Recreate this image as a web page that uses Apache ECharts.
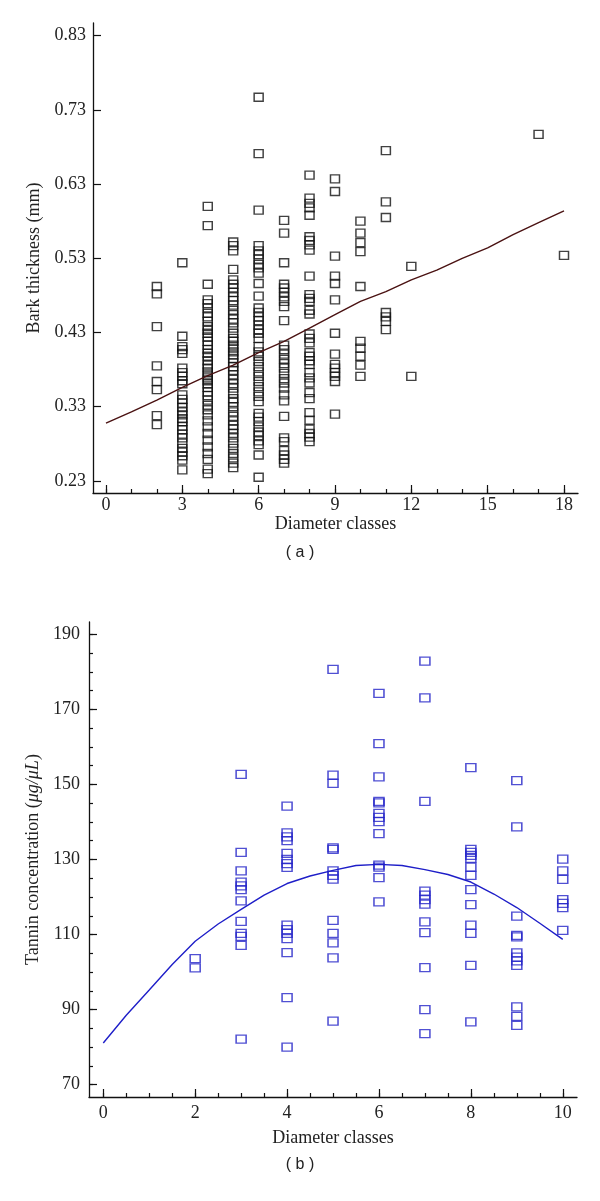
<!DOCTYPE html>
<html><head><meta charset="utf-8">
<script src="https://cdn.jsdelivr.net/npm/echarts@6/dist/echarts.min.js"></script>
<style>html,body{margin:0;padding:0;background:#fff}#c{width:600px;height:1201px}</style>
</head><body><div id="c"></div>
<script>
// ---------- Chart (a): bark thickness ----------
const barkYTicks = [0.23, 0.33, 0.43, 0.53, 0.63, 0.73, 0.83];
const barkXMajor = [0, 3, 6, 9, 12, 15, 18];
const barkXMinor = [0, 1, 2, 3, 4, 5, 6, 7, 8, 9, 10, 11, 12, 13, 14, 15, 16, 17, 18];

const barkClasses = [2, 3, 4, 5, 6, 7, 8, 9, 10, 11, 12, 17, 18];
const bark_c2 = [0.492, 0.482, 0.438, 0.385, 0.364, 0.353, 0.318, 0.306];
const bark_c3 = [0.524, 0.425, 0.411, 0.407, 0.402, 0.382, 0.376, 0.371, 0.365, 0.361, 0.346, 0.340, 0.335, 0.329, 0.323, 0.319, 0.314, 0.310, 0.304, 0.299, 0.293, 0.288, 0.281, 0.274, 0.269, 0.264, 0.258, 0.245];
const bark_c4 = [0.600, 0.574, 0.495, 0.474, 0.469, 0.463, 0.456, 0.451, 0.445, 0.438, 0.433, 0.429, 0.424, 0.418, 0.413, 0.407, 0.402, 0.398, 0.392, 0.386, 0.382, 0.377, 0.373, 0.369, 0.365, 0.361, 0.356, 0.350, 0.345, 0.339, 0.332, 0.326, 0.319, 0.311, 0.303, 0.294, 0.285, 0.276, 0.267, 0.259, 0.246, 0.240];
const bark_c5 = [0.552, 0.547, 0.540, 0.515, 0.501, 0.495, 0.490, 0.484, 0.478, 0.473, 0.467, 0.460, 0.454, 0.448, 0.443, 0.436, 0.429, 0.422, 0.418, 0.413, 0.409, 0.404, 0.400, 0.395, 0.389, 0.384, 0.379, 0.373, 0.367, 0.361, 0.355, 0.348, 0.341, 0.336, 0.330, 0.323, 0.317, 0.311, 0.305, 0.300, 0.294, 0.288, 0.281, 0.274, 0.267, 0.261, 0.254, 0.248];
const bark_c6 = [0.747, 0.671, 0.595, 0.547, 0.540, 0.535, 0.529, 0.522, 0.517, 0.510, 0.496, 0.479, 0.463, 0.457, 0.451, 0.446, 0.440, 0.434, 0.429, 0.422, 0.411, 0.404, 0.398, 0.391, 0.384, 0.377, 0.371, 0.364, 0.357, 0.350, 0.344, 0.337, 0.321, 0.316, 0.310, 0.303, 0.296, 0.291, 0.284, 0.279, 0.265, 0.235];
const bark_c7 = [0.581, 0.564, 0.524, 0.495, 0.490, 0.484, 0.478, 0.472, 0.465, 0.446, 0.413, 0.407, 0.401, 0.394, 0.388, 0.382, 0.375, 0.368, 0.362, 0.355, 0.346, 0.338, 0.317, 0.288, 0.283, 0.271, 0.265, 0.259, 0.254];
const bark_c8 = [0.642, 0.611, 0.604, 0.598, 0.588, 0.559, 0.554, 0.548, 0.541, 0.506, 0.481, 0.476, 0.472, 0.460, 0.455, 0.428, 0.422, 0.416, 0.403, 0.398, 0.392, 0.387, 0.376, 0.369, 0.362, 0.349, 0.341, 0.322, 0.312, 0.300, 0.294, 0.289, 0.283];
const bark_c9 = [0.637, 0.620, 0.533, 0.506, 0.496, 0.474, 0.429, 0.401, 0.387, 0.382, 0.376, 0.371, 0.364, 0.320];
const bark_c10 = [0.580, 0.564, 0.551, 0.539, 0.492, 0.418, 0.409, 0.398, 0.386, 0.371];
const bark_c11 = [0.675, 0.606, 0.585, 0.457, 0.451, 0.445, 0.434];
const bark_c12 = [0.519, 0.371];
const bark_c17 = [0.697];
const bark_c18 = [0.534];
const barkValues = [bark_c2, bark_c3, bark_c4, bark_c5, bark_c6, bark_c7, bark_c8, bark_c9, bark_c10, bark_c11, bark_c12, bark_c17, bark_c18];

const barkFitX = [0, 1, 2, 3, 4, 5, 6, 7, 8, 9, 10, 11, 12, 13, 14, 15, 16, 17, 18];
const barkFitY = [0.308, 0.323, 0.339, 0.356, 0.372, 0.386, 0.403, 0.418, 0.436, 0.454, 0.472, 0.485, 0.501, 0.514, 0.530, 0.544, 0.562, 0.578, 0.594];

// ---------- Chart (b): tannin concentration ----------
const tanYMajor = [70, 90, 110, 130, 150, 170, 190];
const tanYMinor = [70, 75, 80, 85, 90, 95, 100, 105, 110, 115, 120, 125, 130, 135, 140, 145, 150, 155, 160, 165, 170, 175, 180, 185, 190];
const tanXMajor = [0, 2, 4, 6, 8, 10];
const tanXMinor = [0, 0.5, 1, 1.5, 2, 2.5, 3, 3.5, 4, 4.5, 5, 5.5, 6, 6.5, 7, 7.5, 8, 8.5, 9, 9.5, 10];

const tanClasses = [2, 3, 4, 5, 6, 7, 8, 9, 10];
const tan_c2 = [103.6, 101.1];
const tan_c3 = [152.7, 131.9, 127.0, 124.0, 123.0, 122.0, 119.0, 113.5, 110.3, 109.5, 107.1, 82.1];
const tan_c4 = [144.2, 137.1, 136.0, 135.0, 131.6, 130.0, 128.9, 127.9, 112.5, 111.3, 110.3, 108.9, 105.2, 93.2, 80.0];
const tan_c5 = [180.7, 152.5, 150.3, 133.1, 132.7, 127.0, 125.8, 124.8, 113.8, 110.3, 107.8, 103.8, 86.9];
const tan_c6 = [174.3, 160.9, 152.0, 145.5, 145.1, 142.3, 141.2, 140.1, 136.9, 128.5, 128.0, 125.2, 118.7];
const tan_c7 = [182.9, 173.1, 145.5, 121.6, 120.5, 119.3, 118.1, 113.4, 110.5, 101.2, 90.0, 83.6];
const tan_c8 = [154.5, 132.7, 131.9, 131.1, 130.3, 128.0, 125.8, 122.0, 118.0, 112.5, 110.3, 101.8, 86.7];
const tan_c9 = [151.0, 138.7, 114.9, 109.8, 109.4, 105.1, 104.0, 103.0, 101.8, 90.7, 88.2, 85.8];
const tan_c10 = [130.1, 127.0, 124.7, 119.3, 118.3, 117.2, 111.1];
const tanValues = [tan_c2, tan_c3, tan_c4, tan_c5, tan_c6, tan_c7, tan_c8, tan_c9, tan_c10];

const tanFitX = [0, 0.5, 1, 1.5, 2, 2.5, 3, 3.5, 4, 4.5, 5, 5.5, 6, 6.5, 7, 7.5, 8, 8.5, 9, 9.5, 10];
const tanFitY = [81.1, 88.5, 95.2, 102.0, 108.2, 112.8, 116.7, 120.5, 123.6, 125.6, 127.1, 128.4, 128.7, 128.4, 127.3, 126.0, 124.0, 120.8, 117.2, 113.0, 108.7];

// ---------- build ----------
function pairs(classes, values) {
  const out = [];
  classes.forEach((c, i) => values[i].forEach(v => out.push([c, v])));
  return out;
}
function zip(xs, ys) { return xs.map((x, i) => [x, ys[i]]); }

const FONT = 'Liberation Serif';
const txt = { fontFamily: FONT, fontSize: 18, color: '#222' };
const axisLine = { show: true, onZero: false, lineStyle: { color: '#111', width: 1.3 } };
const noLine = { show: false, onZero: false };

const chart = echarts.init(document.getElementById('c'), null, { renderer: 'canvas' });
chart.setOption({
  animation: false,
  backgroundColor: '#fff',
  grid: [
    { left: 93, top: 23, width: 485, height: 470 },
    { left: 89, top: 622, width: 488, height: 475 }
  ],
  xAxis: [
    { gridIndex: 0, type: 'value', min: -0.51, max: 18.55, position: 'bottom', offset: 0,
      axisLine: noLine, splitLine: { show: false }, axisLabel: { show: false },
      axisTick: { show: true, inside: true, length: 4, customValues: barkXMinor, lineStyle: { color: '#111', width: 1.2 } } },
    { gridIndex: 0, type: 'value', min: -0.51, max: 18.55, position: 'bottom', offset: 0,
      axisLine: axisLine, splitLine: { show: false },
      axisTick: { show: true, inside: true, length: 8, customValues: barkXMajor, lineStyle: { color: '#111', width: 1.2 } },
      axisLabel: { customValues: barkXMajor, margin: 3, ...txt },
      name: 'Diameter classes', nameLocation: 'middle', nameGap: 20, nameTextStyle: { ...txt } },
    { gridIndex: 1, type: 'value', min: -0.311, max: 10.31, position: 'bottom', offset: 0,
      axisLine: noLine, splitLine: { show: false }, axisLabel: { show: false },
      axisTick: { show: true, inside: true, length: 4, customValues: tanXMinor, lineStyle: { color: '#111', width: 1.2 } } },
    { gridIndex: 1, type: 'value', min: -0.311, max: 10.31, position: 'bottom', offset: 0,
      axisLine: axisLine, splitLine: { show: false },
      axisTick: { show: true, inside: true, length: 8, customValues: tanXMajor, lineStyle: { color: '#111', width: 1.2 } },
      axisLabel: { customValues: tanXMajor, margin: 7, ...txt },
      name: 'Diameter classes', nameLocation: 'middle', nameGap: 32, nameTextStyle: { ...txt } }
  ],
  yAxis: [
    { gridIndex: 0, type: 'value', min: 0.2138, max: 0.847, position: 'left', offset: 0,
      axisLine: axisLine, splitLine: { show: false },
      axisTick: { show: true, inside: true, length: 8, customValues: barkYTicks, lineStyle: { color: '#111', width: 1.2 } },
      axisLabel: { customValues: barkYTicks, margin: 7, formatter: v => v.toFixed(2), ...txt },
      name: 'Bark thickness (mm)', nameLocation: 'middle', nameGap: 46, nameTextStyle: { ...txt } },
    { gridIndex: 1, type: 'value', min: 66.7, max: 193.3, position: 'left', offset: 0,
      axisLine: noLine, splitLine: { show: false }, axisLabel: { show: false },
      axisTick: { show: true, inside: true, length: 4, customValues: tanYMinor, lineStyle: { color: '#111', width: 1.2 } } },
    { gridIndex: 1, type: 'value', min: 66.7, max: 193.3, position: 'left', offset: 0,
      axisLine: axisLine, splitLine: { show: false },
      axisTick: { show: true, inside: true, length: 8, customValues: tanYMajor, lineStyle: { color: '#111', width: 1.2 } },
      axisLabel: { customValues: tanYMajor, margin: 9, ...txt },
      name: 'Tannin concentration ({i|μg/μL})', nameLocation: 'middle', nameGap: 44,
      nameTextStyle: { ...txt, rich: { i: { fontFamily: FONT, fontSize: 18, fontStyle: 'italic', color: '#222' } } } }
  ],
  series: [
    { type: 'scatter', xAxisIndex: 1, yAxisIndex: 0, data: pairs(barkClasses, barkValues),
      symbol: 'rect', symbolSize: [9, 8],
      itemStyle: { color: 'rgba(255,255,255,0)', borderColor: '#111', borderWidth: 1.4 } },
    { type: 'line', xAxisIndex: 1, yAxisIndex: 0, data: zip(barkFitX, barkFitY),
      showSymbol: false, symbol: 'none', lineStyle: { color: '#4a1212', width: 1.4 } },
    { type: 'scatter', xAxisIndex: 3, yAxisIndex: 2, data: pairs(tanClasses, tanValues),
      symbol: 'rect', symbolSize: [10, 8],
      itemStyle: { color: 'rgba(255,255,255,0)', borderColor: '#2424c8', borderWidth: 1.4 } },
    { type: 'line', xAxisIndex: 3, yAxisIndex: 2, data: zip(tanFitX, tanFitY),
      showSymbol: false, symbol: 'none', lineStyle: { color: '#1e1ec8', width: 1.4 } }
  ],
  graphic: [
    { type: 'text', left: 'center', top: 545, style: { text: '( a )', font: '16px "Liberation Sans", Arial, sans-serif', fill: '#222' } },
    { type: 'text', left: 'center', top: 1157, style: { text: '( b )', font: '16px "Liberation Sans", Arial, sans-serif', fill: '#222' } }
  ]
});
</script></body></html>
